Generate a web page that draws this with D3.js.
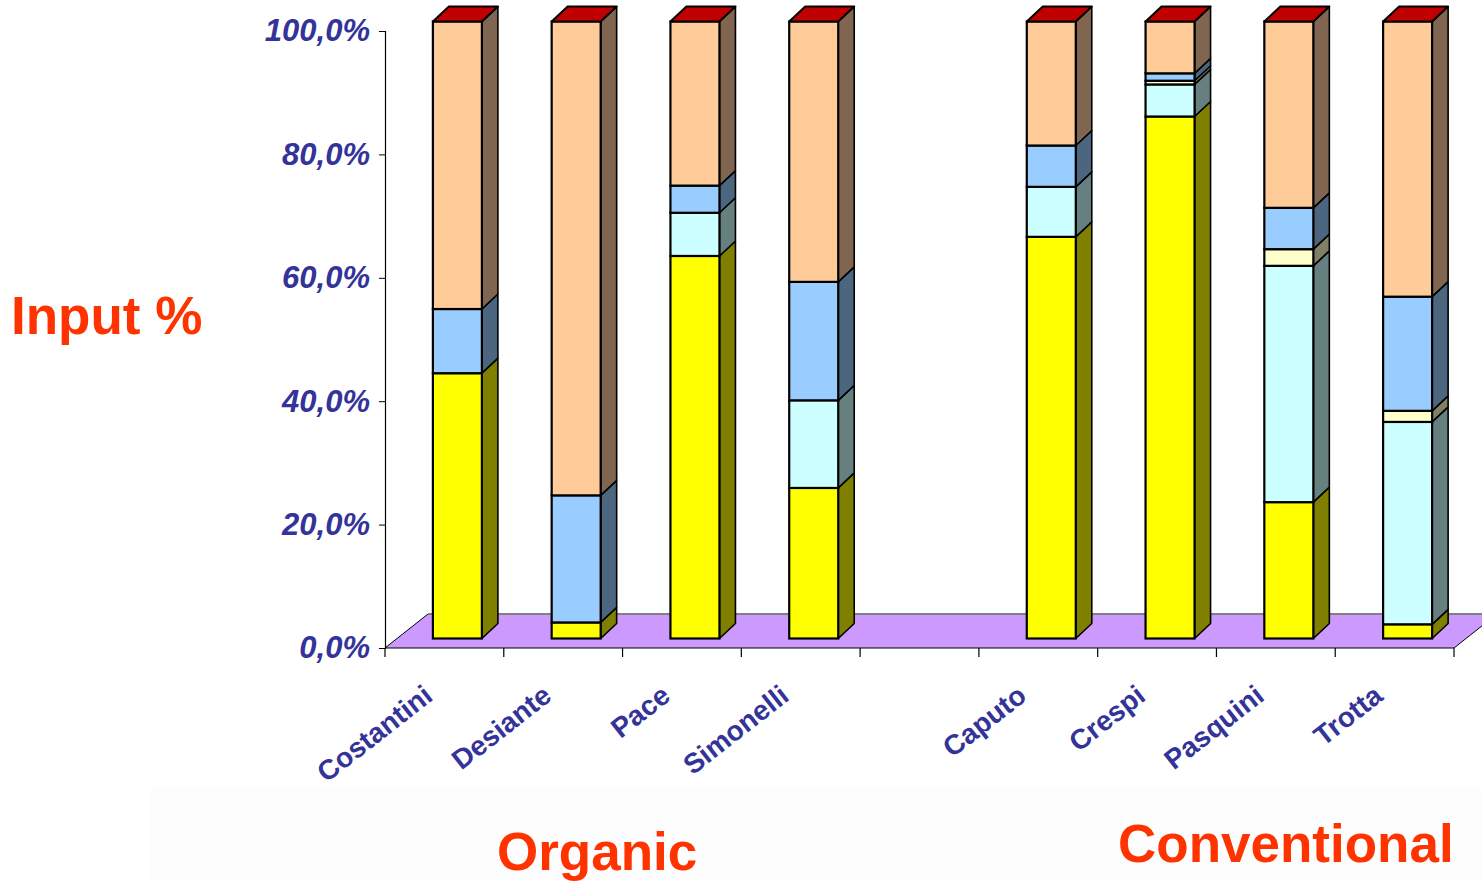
<!DOCTYPE html>
<html>
<head>
<meta charset="utf-8">
<script src="https://cdn.jsdelivr.net/npm/d3@7"></script>
<style>
html,body{margin:0;padding:0;background:#fff;}
svg{display:block;}
</style>
</head>
<body>
<svg id="chart" width="1482" height="881"></svg>
<script>
// ---- data ----
const categories = ["Costantini","Desiante","Pace","Simonelli"," ","Caputo","Crespi","Pasquini","Trotta"];
const seriesNames = ["A","B","C","D","E"];
const seriesA = [43.0, 2.6, 62.0, 24.4, null, 65.1, 84.6, 22.1, 2.3];   // yellow
const seriesB = [0,    0,   7.0, 14.2, null, 8.1,  5.2, 38.3, 32.8];   // light cyan
const seriesC = [0,    0,   0,   0,    null, 0,    0.6, 2.7,  1.8];    // pale yellow
const seriesD = [10.4, 20.6,4.4, 19.2, null, 6.7,  1.2, 6.7,  18.5];   // light blue
const seriesE = [46.6, 76.8,26.6,42.2, null, 20.1, 8.4, 30.2, 44.6];   // peach
const yTicks = [0,20,40,60,80,100];
const groupLabels = ["Organic","Conventional"];
const yTitle = "Input %";

// ---- styles ----
const frontColors = ["#ffff00","#ccffff","#ffffcc","#99ccff","#ffcc99"];
const sideColors  = ["#808000","#668080","#808066","#4d6680","#806650"];
const capColor = "#c00000";
const labelColor = "#333399";
const titleColor = "#ff3300";

const svg = d3.select("#chart");
const allSeries = [seriesA,seriesB,seriesC,seriesD,seriesE];

// scales
const x = d3.scaleBand().domain(categories).range([385,1454]).paddingInner(0).paddingOuter(0);
const y = d3.scaleLinear().domain([0,100]).range([648,31]);
const depthX = 16, depthY = -15;      // bar depth
const shiftX = 13, shiftY = -9.5;     // bars sit back from axis plane
const barW = 49;
const floorDX = 43, floorDY = -34;

// faint background band at bottom
svg.append("rect").attr("x",150).attr("y",787).attr("width",1332).attr("height",94).attr("fill","#fdfdfd");

// floor
const fx0 = x.range()[0], fx1 = x.range()[1], fy = y(0);
svg.append("path")
  .attr("d",`M${fx0},${fy}L${fx1},${fy}L${fx1+floorDX},${fy+floorDY}L${fx0+floorDX},${fy+floorDY}Z`)
  .attr("fill","#cc99ff").attr("stroke","none");
svg.append("line").attr("x1",fx0+floorDX).attr("y1",fy+floorDY).attr("x2",fx1+floorDX).attr("y2",fy+floorDY)
  .attr("stroke","#808080").attr("stroke-width",2);
svg.append("line").attr("x1",fx0).attr("y1",fy).attr("x2",fx0+floorDX).attr("y2",fy+floorDY)
  .attr("stroke","#000").attr("stroke-width",1);
svg.append("line").attr("x1",fx1).attr("y1",fy).attr("x2",fx1+floorDX).attr("y2",fy+floorDY)
  .attr("stroke","#000").attr("stroke-width",1);

// y axis
const yAxis = d3.axisLeft(y).tickValues(yTicks).tickSize(6).tickPadding(9)
  .tickFormat(d => d3.format(".1f")(d).replace(".",",") + "%");
const gy = svg.append("g").attr("transform","translate(385,0)").call(yAxis);
gy.select(".domain").attr("stroke","#000").attr("stroke-width",1.2);
gy.selectAll(".tick line").attr("stroke","#000");
gy.selectAll(".tick text").attr("fill",labelColor)
  .style("font-family","'Liberation Sans', Arial, sans-serif")
  .style("font-size","31px").style("font-weight","bold").style("font-style","italic");

// x axis (front edge of floor)
const xBounds = d3.range(categories.length+1).map(i => x.range()[0] + i*x.step());
const gx = svg.append("g");
gx.append("line").attr("x1",fx0).attr("x2",fx1).attr("y1",fy).attr("y2",fy).attr("stroke","#000").attr("stroke-width",1.2);
gx.selectAll("line.tk").data(xBounds).join("line").attr("class","tk")
  .attr("x1",d=>d).attr("x2",d=>d).attr("y1",fy).attr("y2",fy+9).attr("stroke","#000").attr("stroke-width",1.2);
gx.selectAll("text").data(categories.filter(c=>c.trim()!=="")).join("text")
  .attr("transform",d=>`translate(${x(d)+x.bandwidth()/2-10},${699}) rotate(-38)`)
  .attr("text-anchor","end")
  .attr("fill",labelColor)
  .style("font-family","'Liberation Sans', Arial, sans-serif")
  .style("font-size","28px").style("font-weight","bold")
  .text(d=>d);

// bars
const barsG = svg.append("g");
categories.forEach((cat,i) => {
  if (allSeries[0][i] === null) return;
  const x0 = x(cat) + (x.bandwidth()-barW)/2 + shiftX;
  let cum = 0;
  allSeries.forEach((s,k) => {
    const v = s[i];
    if (!v) { return; }
    const yb = y(cum) + shiftY, yt = y(cum+v) + shiftY;
    cum += v;
    // side face
    barsG.append("path")
      .attr("d",`M${x0+barW},${yb}L${x0+barW+depthX},${yb+depthY}L${x0+barW+depthX},${yt+depthY}L${x0+barW},${yt}Z`)
      .attr("fill",sideColors[k]).attr("stroke","#000").attr("stroke-width",1.6).attr("stroke-linejoin","round");
    // front face
    barsG.append("rect").attr("x",x0).attr("y",yt).attr("width",barW).attr("height",yb-yt)
      .attr("fill",frontColors[k]).attr("stroke","#000").attr("stroke-width",2.2);
  });
  const ytop = y(cum) + shiftY;
  barsG.append("path")
    .attr("d",`M${x0},${ytop}L${x0+depthX},${ytop+depthY}L${x0+barW+depthX},${ytop+depthY}L${x0+barW},${ytop}Z`)
    .attr("fill",capColor).attr("stroke","#000").attr("stroke-width",2).attr("stroke-linejoin","round");
});

// titles
const tf = "'Liberation Sans', Arial, sans-serif";
svg.append("text").attr("x",11).attr("y",334).attr("fill",titleColor)
  .style("font-family",tf).style("font-size","53px").style("font-weight","bold").text(yTitle);
svg.append("text").attr("x",497).attr("y",870).attr("fill",titleColor)
  .style("font-family",tf).style("font-size","53px").style("font-weight","bold").text(groupLabels[0]);
svg.append("text").attr("x",1118).attr("y",862).attr("fill",titleColor)
  .style("font-family",tf).style("font-size","53px").style("font-weight","bold").text(groupLabels[1]);
</script>
</body>
</html>
